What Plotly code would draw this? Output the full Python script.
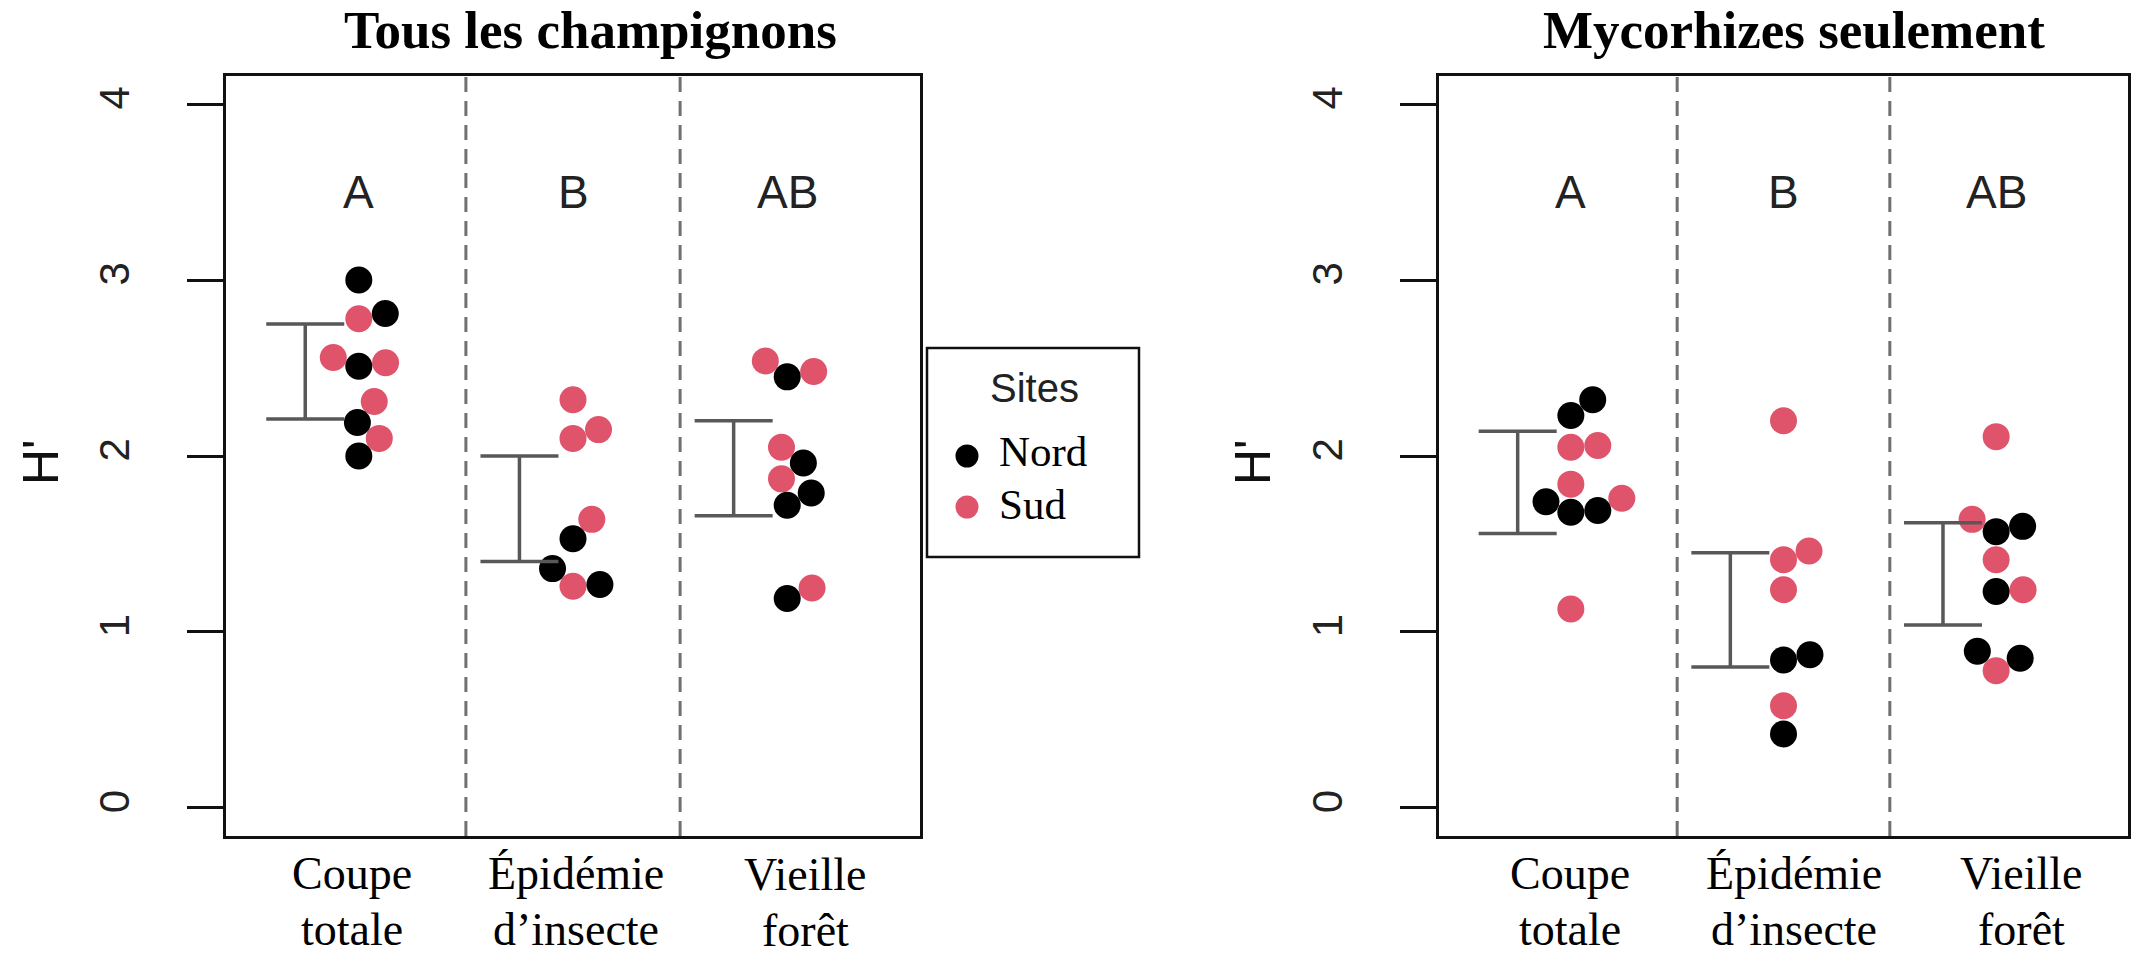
import math
import plotly.graph_objects as go

W, H = 2131, 956

# ---- data -------------------------------------------------------------
categories = ["Coupe totale", "Épidémie d’insecte", "Vieille forêt"]
category_lines = [["Coupe", "totale"], ["Épidémie", "d’insecte"], ["Vieille", "forêt"]]
group_letters = ["A", "B", "AB"]
panel_titles = ["Tous les champignons", "Mycorhizes seulement"]
site_names = ["Nord", "Sud"]
y_ticks = [0, 1, 2, 3, 4]

# Shannon diversity (H') per site, one list per treatment
nord_tous = [[3.00, 2.81, 2.51, 2.19, 2.00],
             [1.53, 1.36, 1.27],
             [2.45, 1.96, 1.79, 1.72, 1.19]]
sud_tous = [[2.78, 2.56, 2.53, 2.31, 2.10],
            [2.32, 2.15, 2.10, 1.64, 1.26],
            [2.54, 2.48, 2.05, 1.87, 1.25]]
err_low_tous = [2.21, 1.40, 1.66]
err_high_tous = [2.75, 2.00, 2.20]

nord_myco = [[2.32, 2.23, 1.74, 1.69, 1.68],
             [0.87, 0.84, 0.42],
             [1.60, 1.57, 1.23, 0.89, 0.85]]
sud_myco = [[2.06, 2.05, 1.84, 1.76, 1.13],
            [2.20, 1.46, 1.41, 1.24, 0.58],
            [2.11, 1.64, 1.41, 1.24, 0.78]]
err_low_myco = [1.56, 0.80, 1.04]
err_high_myco = [2.14, 1.45, 1.62]

# ---- layout constants (pixels) -----------------------------------------
X_RANGE = [0.38, 3.62]
Y_RANGE = [-0.16, 4.16]
BOX_TOP, BOX_BOTTOM = 76, 836
PANELS = [
    dict(x0=226, x1=920, nord=nord_tous, sud=sud_tous, lo=err_low_tous,
         hi=err_high_tous, title_x=590, ylab_x=41,
         label_shift=[-7, 3, 18], label_dy=[0, 0, 1]),
    dict(x0=1439, x1=2128, nord=nord_myco, sud=sud_myco, lo=err_low_myco,
         hi=err_high_myco, title_x=1794, ylab_x=1253,
         label_shift=[-1, 10, 25], label_dy=[0, 0, 0]),
]
COL_NORD = "#000000"
COL_SUD = "#DF536B"
DOT = 27          # marker diameter, px
ERR_DX = 0.25     # error bar sits left of the swarm
SANS = "Liberation Sans, Arial, Helvetica, sans-serif"
SERIF = "Liberation Serif, Times New Roman, serif"


def px_x(p):
    return p / W


def px_y(p):
    return 1 - p / H


def swarm(values, ppx, ppy, d=DOT):
    """Beeswarm ('swarm' method): place points in ascending order at the
    non-overlapping horizontal offset closest to the centre."""
    order = sorted(range(len(values)), key=lambda i: values[i])
    placed = []
    offs = [0.0] * len(values)
    for i in order:
        y = values[i] * ppy
        cands = [0.0]
        for (px, py) in placed:
            dy = abs(py - y)
            if dy < d:
                o = math.sqrt(d * d - dy * dy)
                cands += [px + o, px - o]
        ok = [c for c in cands
              if all((c - px) ** 2 + (y - py) ** 2 >= d * d - 1e-6
                     for px, py in placed)]
        best = min(ok, key=abs)
        placed.append((best, y))
        offs[i] = best / ppx
    return offs


fig = go.Figure()
annotations = []
shapes = []
plot_h = BOX_BOTTOM - BOX_TOP
ppy = plot_h / (Y_RANGE[1] - Y_RANGE[0])

for k, p in enumerate(PANELS):
    sfx = "" if k == 0 else str(k + 1)
    xa, ya = "x" + sfx, "y" + sfx
    ppx = (p["x1"] - p["x0"]) / (X_RANGE[1] - X_RANGE[0])

    pts = {"Nord": ([], []), "Sud": ([], [])}
    for c in range(len(categories)):
        vals = p["nord"][c] + p["sud"][c]
        who = ["Nord"] * len(p["nord"][c]) + ["Sud"] * len(p["sud"][c])
        offs = swarm(vals, ppx, ppy)
        for v, w, o in zip(vals, who, offs):
            pts[w][0].append(c + 1 + o)
            pts[w][1].append(v)

    for name, col in (("Sud", COL_SUD), ("Nord", COL_NORD)):
        fig.add_trace(go.Scatter(
            x=pts[name][0], y=pts[name][1], mode="markers", name=name,
            marker=dict(size=DOT, color=col, line=dict(width=0)),
            xaxis=xa, yaxis=ya, showlegend=False, hoverinfo="skip"))

    # mean ± interval bars
    mids = [(a + b) / 2 for a, b in zip(p["lo"], p["hi"])]
    half = [(b - a) / 2 for a, b in zip(p["lo"], p["hi"])]
    fig.add_trace(go.Scatter(
        x=[c + 1 - ERR_DX for c in range(len(categories))], y=mids,
        mode="markers", marker=dict(size=1, color="rgba(0,0,0,0)"),
        error_y=dict(type="data", array=half, visible=True, width=39,
                     thickness=3.5, color="#585858"),
        xaxis=xa, yaxis=ya, showlegend=False, hoverinfo="skip"))

    # dashed separators between treatments
    for xv in (1.5, 2.5):
        shapes.append(dict(type="line", xref=xa, yref=ya + " domain",
                           x0=xv, x1=xv, y0=0, y1=1,
                           line=dict(color="#707070", width=3, dash="15px,9px")))

    # group letters
    for c, letter in enumerate(group_letters):
        annotations.append(dict(x=c + 1, y=3.5, xref=xa, yref=ya, text=letter,
                                showarrow=False, xanchor="center",
                                font=dict(family=SANS, size=46, color="#222")))

    # category labels (two lines each)
    for c, lines in enumerate(category_lines):
        for j, line in enumerate(lines):
            annotations.append(dict(
                x=c + 1, y=px_y(873 + 56 * j + p["label_dy"][c]), xref=xa, yref="paper",
                xshift=p["label_shift"][c], text=line, showarrow=False,
                xanchor="center", yanchor="middle",
                font=dict(family=SERIF, size=46, color="#000")))

    # panel title
    annotations.append(dict(x=px_x(p["title_x"]), y=px_y(30), xref="paper", yref="paper",
                            text="<b>" + panel_titles[k] + "</b>", showarrow=False,
                            xanchor="center", yanchor="middle",
                            font=dict(family=SERIF, size=53, color="#000")))
    # y-axis label
    annotations.append(dict(x=px_x(p["ylab_x"]), y=px_y(462), xref="paper", yref="paper",
                            text="H'", textangle=-90, showarrow=False,
                            xanchor="center", yanchor="middle",
                            font=dict(family=SANS, size=50, color="#111")))

    dom_x = [p["x0"] / W, p["x1"] / W]
    dom_y = [1 - BOX_BOTTOM / H, 1 - BOX_TOP / H]
    fig.layout["xaxis" + sfx] = dict(
        domain=dom_x, range=X_RANGE, showgrid=False, zeroline=False,
        showticklabels=False, ticks="", showline=True, mirror=True,
        linecolor="#111", linewidth=2.5, anchor=ya, fixedrange=True)
    fig.layout["yaxis" + sfx] = dict(
        domain=dom_y, range=Y_RANGE, showgrid=False, zeroline=False,
        tickvals=y_ticks, ticktext=[str(t) for t in y_ticks],
        ticks="outside", ticklen=36, tickwidth=2.5, tickcolor="#111",
        tickangle=-90, ticklabelstandoff=41,
        tickfont=dict(family=SANS, size=42, color="#222"),
        showline=True, mirror=True, linecolor="#111", linewidth=2.5,
        anchor=xa, fixedrange=True)

# ---- legend box ------------------------------------------------------
shapes.append(dict(type="rect", xref="paper", yref="paper",
                   x0=px_x(927), x1=px_x(1139), y0=px_y(557), y1=px_y(348),
                   line=dict(color="#111", width=2.5), fillcolor="white"))
annotations.append(dict(x=px_x(1034), y=px_y(388), xref="paper", yref="paper",
                        text="Sites", showarrow=False, xanchor="center", yanchor="middle",
                        font=dict(family=SANS, size=40, color="#222")))
for j, (name, col) in enumerate(zip(site_names, (COL_NORD, COL_SUD))):
    cy = 456 + 51 * j
    shapes.append(dict(type="circle", xref="paper", yref="paper",
                       x0=px_x(967 - 11.5), x1=px_x(967 + 11.5),
                       y0=px_y(cy + 11.5), y1=px_y(cy - 11.5),
                       line=dict(width=0), fillcolor=col))
    annotations.append(dict(x=px_x(997), y=px_y(cy - 5 + 2 * j), xref="paper", yref="paper",
                            text=name, showarrow=False, xanchor="left", yanchor="middle",
                            font=dict(family=SERIF, size=43, color="#000")))

fig.update_layout(
    width=W, height=H, margin=dict(l=0, r=0, t=0, b=0),
    paper_bgcolor="white", plot_bgcolor="white",
    showlegend=False, shapes=shapes, annotations=annotations)

fig.write_html("out.html", config={"displayModeBar": False})
